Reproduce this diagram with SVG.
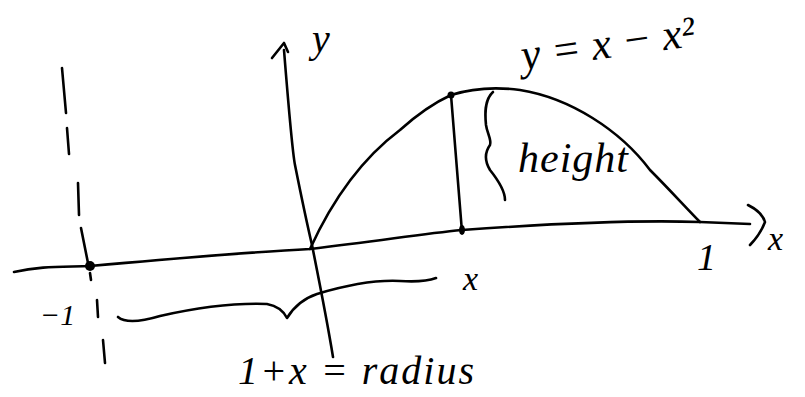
<svg xmlns="http://www.w3.org/2000/svg" width="805" height="397" viewBox="0 0 805 397">
<style>
.s{fill:none;stroke:#000;stroke-width:2.6;stroke-linecap:round;stroke-linejoin:round}
.t{font-family:"Liberation Serif","DejaVu Serif",serif;font-style:italic;fill:#000}
</style>
<rect width="805" height="397" fill="#fff"/>
<g id="connectors">
<path id="x-axis" class="s" d="M14,272 C40,266 60,267 90,266 C180,258 250,252 310,249 C380,241 420,234 462,230 C560,223 640,220 700,222 L750,224"/>
<path id="x-arrow" class="s" d="M748,205 Q762,212 765,222 Q760,235 750,245"/>
<path id="y-axis" class="s" d="M284,50 C288,100 292,150 295,165 C300,190 305,215 312,245 C320,285 327,320 333,357"/>
<path id="y-arrow" class="s" d="M272,58 L284,43 L288,52"/>
<path id="curve" class="s" d="M310,249 C330,205 360,160 400,130 C420,112 438,101 451,95 C470,89 490,86 520,90 C570,98 620,130 650,170 C670,190 688,210 700,222"/>
<path id="height-line" class="s" d="M451,95 L462,232"/>
<path id="height-brace" class="s" d="M493,92 C484,100 485,115 486,125 C487,133 492,140 490,145 C485,152 484,160 490,170 C498,180 505,190 505,200"/>
<g id="dashed">
<path class="s" d="M62,68 L66,113"/>
<path class="s" d="M67,128 L69,154"/>
<path class="s" d="M78,183 L79,215"/>
<path class="s" d="M81,228 L88,263"/>
<path class="s" d="M90,273 L91,280"/>
<path class="s" d="M97,300 L98,317"/>
<path class="s" d="M103,340 L105,363"/>
</g>
<path id="radius-brace" class="s" d="M118,317 C125,323 140,322 160,316 C200,307 240,303 267,304 C278,306 284,312 287,318 C295,305 305,298 317,294 C350,284 380,280 400,281 C415,282 428,281 436,278"/>
</g>
<g id="dots">
<circle id="dot-minus1" cx="90" cy="266" r="5"/>
<circle id="dot-top" cx="451" cy="95" r="3.5"/>
<ellipse id="dot-x" cx="462" cy="230" rx="3" ry="5"/>
</g>
<g id="labels">
<text class="t" x="312" y="52" font-size="40">y</text>
<text class="t" x="768" y="250" font-size="34">x</text>
<text class="t" x="523" y="70" font-size="44" transform="rotate(-8 523 70)">y = x − x²</text>
<text class="t" x="518" y="172" font-size="42" letter-spacing="1">height</text>
<text class="t" x="40" y="325" font-size="30">−1</text>
<text class="t" x="463" y="290" font-size="34">x</text>
<text class="t" x="697" y="270" font-size="38">1</text>
<text class="t" x="238" y="384" font-size="40" letter-spacing="2">1+x = radius</text>
</g>
</svg>
